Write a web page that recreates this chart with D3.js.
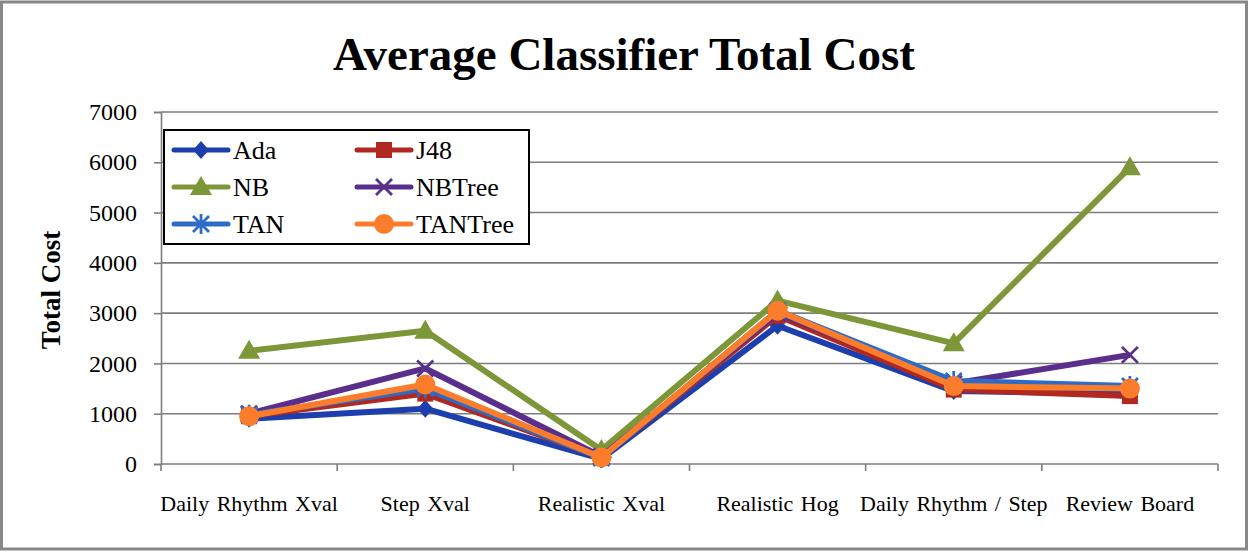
<!DOCTYPE html>
<html>
<head>
<meta charset="utf-8">
<script src="https://cdn.jsdelivr.net/npm/d3@7"></script>
<style>
  html, body { margin: 0; padding: 0; background: #fff; }
  svg { display: block; }
  text { font-family: "Liberation Serif", "Times New Roman", serif; fill: #000; }
</style>
</head>
<body>
<svg id="chart" width="1249" height="553"></svg>
<script>
// Categories and per-classifier average total cost
const categories = ["Daily Rhythm Xval", "Step Xval", "Realistic Xval", "Realistic Hog", "Daily Rhythm / Step", "Review Board"];
const ada     = [900, 1100, 100, 2750, 1450, 1400];
const j48     = [950, 1400, 130, 2950, 1480, 1350];
const nb      = [2250, 2650, 280, 3250, 2400, 5900];
const nbTree  = [1000, 1900, 150, 3000, 1600, 2170];
const tan     = [980, 1500, 120, 3050, 1650, 1550];
const tanTree = [950, 1580, 130, 3050, 1550, 1500];
const yTicks  = [0, 1000, 2000, 3000, 4000, 5000, 6000, 7000];

const series = [
  { name: "Ada",     values: ada,     color: "#1d3fae", marker: "diamond" },
  { name: "J48",     values: j48,     color: "#b0281f", marker: "square" },
  { name: "NB",      values: nb,      color: "#7d9638", marker: "triangle" },
  { name: "NBTree",  values: nbTree,  color: "#5a2f8c", marker: "x" },
  { name: "TAN",     values: tan,     color: "#2d6cc6", marker: "asterisk" },
  { name: "TANTree", values: tanTree, color: "#fb7d2c", marker: "circle" }
];

const svg = d3.select("#chart");
const W = 1249, H = 553;
const plot = { left: 161, right: 1218, top: 112, bottom: 464 };
const gridColor = "#7e7e7e";

// Outer frame
svg.append("rect").attr("x", 1.5).attr("y", 2).attr("width", W - 4).attr("height", H - 6)
  .attr("fill", "#fff").attr("stroke", "#888").attr("stroke-width", 3);

const x = d3.scaleBand().domain(categories).range([plot.left, plot.right]).padding(0);
const y = d3.scaleLinear().domain([0, 7000]).range([plot.bottom, plot.top]);

// Title
svg.append("text").attr("x", 624).attr("y", 70).attr("text-anchor", "middle")
  .style("font-size", "47px").style("font-weight", "bold").text("Average Classifier Total Cost");

// Horizontal gridlines
svg.append("g").selectAll("line").data(yTicks.filter(d => d > 0)).join("line")
  .attr("x1", plot.left).attr("x2", plot.right)
  .attr("y1", d => y(d)).attr("y2", d => y(d))
  .attr("stroke", gridColor).attr("stroke-width", 1.6);

// Y axis
const yAxis = svg.append("g").attr("transform", `translate(${plot.left},0)`)
  .call(d3.axisLeft(y).tickValues(yTicks).tickSize(7).tickPadding(17).tickFormat(d3.format("d")));
yAxis.select(".domain").attr("stroke", gridColor).attr("stroke-width", 1.6);
yAxis.selectAll(".tick line").attr("stroke", gridColor).attr("stroke-width", 1.6);
yAxis.selectAll(".tick text").style("font-size", "24px").style("font-family", "Liberation Serif, serif").attr("fill", "#000");

// X axis baseline and boundary ticks
svg.append("line").attr("x1", plot.left).attr("x2", plot.right)
  .attr("y1", plot.bottom).attr("y2", plot.bottom).attr("stroke", gridColor).attr("stroke-width", 1.6);
const bounds = categories.map(c => x(c)).concat([plot.right]);
svg.append("g").selectAll("line").data(bounds).join("line")
  .attr("x1", d => d).attr("x2", d => d).attr("y1", plot.bottom).attr("y2", plot.bottom + 7)
  .attr("stroke", gridColor).attr("stroke-width", 1.6);
svg.append("g").selectAll("text").data(categories).join("text")
  .attr("x", d => x(d) + x.bandwidth() / 2).attr("y", 511)
  .attr("text-anchor", "middle").style("font-size", "22px").style("word-spacing", "2px")
  .text(d => d);

// Y axis title
svg.append("text").attr("transform", "translate(60,290) rotate(-90)").attr("text-anchor", "middle")
  .style("font-size", "27px").style("font-weight", "bold").text("Total Cost");

// Marker drawing
function drawMarker(g, type, color, cx, cy) {
  const s = 8;
  if (type === "diamond") {
    g.append("path").attr("d", `M${cx},${cy - 9}L${cx + 8},${cy}L${cx},${cy + 9}L${cx - 8},${cy}Z`).attr("fill", color);
  } else if (type === "square") {
    g.append("rect").attr("x", cx - 8).attr("y", cy - 8).attr("width", 16).attr("height", 16).attr("fill", color);
  } else if (type === "triangle") {
    g.append("path").attr("d", `M${cx},${cy - 11}L${cx + 11},${cy + 8}L${cx - 11},${cy + 8}Z`).attr("fill", color);
  } else if (type === "x") {
    g.append("path").attr("d", `M${cx - s},${cy - s}L${cx + s},${cy + s}M${cx - s},${cy + s}L${cx + s},${cy - s}`)
      .attr("stroke", color).attr("stroke-width", 2.8);
  } else if (type === "asterisk") {
    g.append("path").attr("d", `M${cx - s},${cy - s}L${cx + s},${cy + s}M${cx - s},${cy + s}L${cx + s},${cy - s}M${cx},${cy - 10}L${cx},${cy + 10}`)
      .attr("stroke", color).attr("stroke-width", 2.8);
  } else if (type === "circle") {
    g.append("circle").attr("cx", cx).attr("cy", cy).attr("r", 10).attr("fill", color);
  }
}

// Series lines and markers
const line = d3.line().x((d, i) => x(categories[i]) + x.bandwidth() / 2).y(d => y(d));
series.forEach(s => {
  const g = svg.append("g");
  g.append("path").datum(s.values).attr("d", line).attr("fill", "none")
    .attr("stroke", s.color).attr("stroke-width", 6).attr("stroke-linejoin", "round");
  s.values.forEach((v, i) => drawMarker(g, s.marker, s.color, x(categories[i]) + x.bandwidth() / 2, y(v)));
});

// Legend
const lg = svg.append("g");
lg.append("rect").attr("x", 164).attr("y", 130).attr("width", 365).attr("height", 114)
  .attr("fill", "#fff").attr("stroke", "#000").attr("stroke-width", 2);
series.forEach((s, i) => {
  const col = i % 2, row = Math.floor(i / 2);
  const lx = col === 0 ? 174 : 357;
  const ly = 150 + row * 37;
  const g = lg.append("g");
  g.append("line").attr("x1", lx).attr("x2", lx + 54).attr("y1", ly).attr("y2", ly)
    .attr("stroke", s.color).attr("stroke-width", 5).attr("stroke-linecap", "round");
  drawMarker(g, s.marker, s.color, lx + 27, ly);
  g.append("text").attr("x", lx + 59).attr("y", ly + 9).style("font-size", "26px").text(s.name);
});
</script>
</body>
</html>
